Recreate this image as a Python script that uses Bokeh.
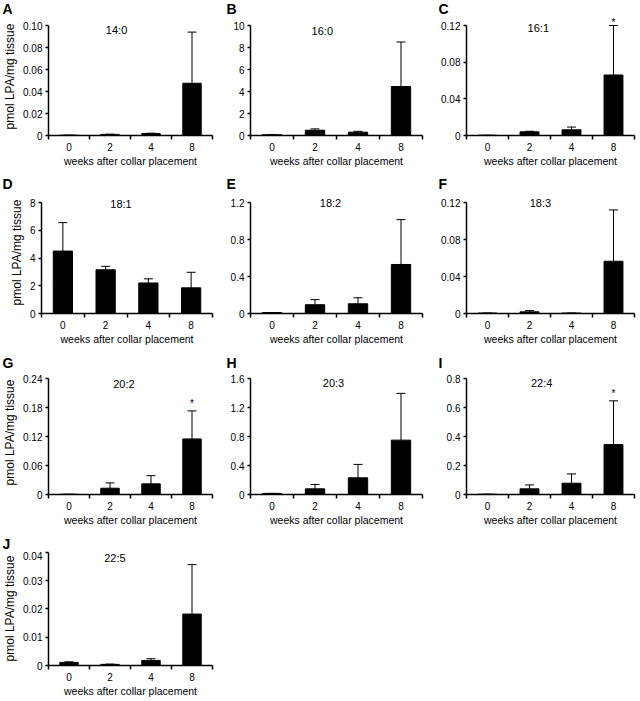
from bokeh.plotting import figure
from bokeh.models import FixedTicker, Label, Whisker, TeeHead, ColumnDataSource, Range1d
from bokeh.layouts import column, row
from bokeh.embed import file_html
from bokeh.resources import INLINE
from bokeh.core.properties import value

weeks = ["0", "2", "4", "8"]

# LPA species means and SD (pmol LPA / mg tissue)
lpa_14_0_mean = [0.0003, 0.0010, 0.0018, 0.0475]
lpa_14_0_err = [0.0, 0.0002, 0.0003, 0.0465]
lpa_16_0_mean = [0.07, 0.48, 0.30, 4.45]
lpa_16_0_err = [0.02, 0.12, 0.08, 4.05]
lpa_16_1_mean = [0.0003, 0.0040, 0.0062, 0.0660]
lpa_16_1_err = [0.0, 0.0006, 0.0030, 0.0540]
lpa_18_1_mean = [4.50, 3.15, 2.20, 1.85]
lpa_18_1_err = [2.05, 0.25, 0.30, 1.12]
lpa_18_2_mean = [0.010, 0.095, 0.105, 0.530]
lpa_18_2_err = [0.0, 0.055, 0.065, 0.485]
lpa_18_3_mean = [0.0005, 0.0018, 0.0005, 0.0565]
lpa_18_3_err = [0.0, 0.0014, 0.0, 0.0555]
lpa_20_2_mean = [0.0005, 0.013, 0.022, 0.115]
lpa_20_2_err = [0.0, 0.011, 0.017, 0.058]
lpa_20_3_mean = [0.015, 0.078, 0.23, 0.75]
lpa_20_3_err = [0.0, 0.06, 0.185, 0.645]
lpa_22_4_mean = [0.002, 0.039, 0.078, 0.344]
lpa_22_4_err = [0.0, 0.027, 0.064, 0.302]
lpa_22_5_mean = [0.0011, 0.0004, 0.0018, 0.0182]
lpa_22_5_err = [0.0002, 0.0001, 0.0006, 0.0175]

yt_14_0 = ["0", "0.02", "0.04", "0.06", "0.08", "0.10"]
yt_16_0 = ["0", "2", "4", "6", "8", "10"]
yt_16_1 = ["0", "0.04", "0.08", "0.12"]
yt_18_1 = ["0", "2", "4", "6", "8"]
yt_18_2 = ["0", "0.4", "0.8", "1.2"]
yt_18_3 = ["0", "0.04", "0.08", "0.12"]
yt_20_2 = ["0", "0.06", "0.12", "0.18", "0.24"]
yt_20_3 = ["0", "0.4", "0.8", "1.2", "1.6"]
yt_22_4 = ["0", "0.2", "0.4", "0.6", "0.8"]
yt_22_5 = ["0", "0.01", "0.02", "0.03", "0.04"]

# significance flag per panel (index of starred bar or None)
star_16_1 = 3
star_20_2 = 3
star_22_4 = 3

panels = [
    ("A", "14:0", lpa_14_0_mean, lpa_14_0_err, yt_14_0, None),
    ("B", "16:0", lpa_16_0_mean, lpa_16_0_err, yt_16_0, None),
    ("C", "16:1", lpa_16_1_mean, lpa_16_1_err, yt_16_1, star_16_1),
    ("D", "18:1", lpa_18_1_mean, lpa_18_1_err, yt_18_1, None),
    ("E", "18:2", lpa_18_2_mean, lpa_18_2_err, yt_18_2, None),
    ("F", "18:3", lpa_18_3_mean, lpa_18_3_err, yt_18_3, None),
    ("G", "20:2", lpa_20_2_mean, lpa_20_2_err, yt_20_2, star_20_2),
    ("H", "20:3", lpa_20_3_mean, lpa_20_3_err, yt_20_3, None),
    ("I", "22:4", lpa_22_4_mean, lpa_22_4_err, yt_22_4, star_22_4),
    ("J", "22:5", lpa_22_5_mean, lpa_22_5_err, yt_22_5, None),
]

# ---- layout / style parameters (pixels) ----
TOTAL_W = 639
title_pos = [1.66, 1.67, 1.71, 1.86, 1.86, 1.76, 1.84, 1.93, 1.79, 1.62]
title_dy = [-4, -5, -2, -1, 0, 0, -5, -4, -4, -6]
star_dy = [0, 0, 3, 0, 0, 0, 7, 0, 7, 0]
col_w = [218, 217, 204]
col_bl = [41, 32, 31]
col_br = [6, 13, 5]
letter_x = [2, 226, 438]
STRIP_H = 17
STRIP_MID = [9, 8, 8, 8]           # letter centre above strip bottom
row_frame = [118, 122, 124, 118]   # frame height (frame starts at figure top)
row_pad = [8, 11, 8, 1]            # gap between frame top and top tick
row_bottom = [39, 40, 40, 30]

FONT = "Liberation Sans"


def make_strip(r, letters):
    s = figure(width=TOTAL_W, height=STRIP_H, x_range=Range1d(0, TOTAL_W),
               y_range=Range1d(0, STRIP_H),
               output_backend="svg", toolbar_location=None, title=None,
               x_axis_location=None, y_axis_location=None, min_border=0)
    s.outline_line_color = None
    s.grid.visible = False
    s.text(x=[letter_x[k] for k in range(len(letters))], y=[STRIP_MID[r]] * len(letters),
           text=letters, text_font=value(FONT), text_font_size="14px",
           text_font_style="bold", text_color="black",
           text_align="left", text_baseline="middle")
    return s


def make_panel(i, letter, name, means, errs, ylabels, star):
    c = i % 3
    r = i // 3
    yticks = [float(s) for s in ylabels]
    ytop = yticks[-1]
    fh = row_frame[r]
    yend = ytop * fh / (fh - row_pad[r])
    xs = [k + 0.5 for k in range(len(weeks))]
    p = figure(width=col_w[c], height=fh + row_bottom[r],
               x_range=Range1d(0, len(weeks)), y_range=Range1d(0, yend),
               output_backend="svg", toolbar_location=None, title=None,
               min_border_left=col_bl[c], min_border_right=col_br[c],
               min_border_top=0, min_border_bottom=row_bottom[r])
    p.outline_line_color = None
    p.grid.visible = False
    p.background_fill_color = "white"
    p.border_fill_color = "white"

    upper = [m + e for m, e in zip(means, errs)]
    src = ColumnDataSource(dict(x=xs, mean=means, upper=upper))
    p.vbar(x="x", top="mean", bottom=0, width=0.45, source=src,
           fill_color="black", line_color="black", line_width=1)
    p.add_layout(Whisker(source=src, base="x", upper="upper", lower="mean",
                         dimension="height", line_color="black", line_width=1,
                         upper_head=TeeHead(size=9, line_color="black", line_width=1),
                         lower_head=None))

    # x axis: ticks between categories, labels at centres
    xa = p.xaxis[0]
    xa.ticker = FixedTicker(ticks=xs, minor_ticks=list(range(len(weeks) + 1)))
    xa.major_label_overrides = {x: w for x, w in zip(xs, weeks)}
    xa.major_tick_line_color = None
    xa.major_tick_out = 3
    xa.major_tick_in = 0
    xa.minor_tick_out = 4
    xa.minor_tick_in = 0
    xa.minor_tick_line_width = 1.5
    xa.minor_tick_line_color = "black"
    xa.axis_line_width = 1.5
    xa.axis_line_color = "black"
    xa.major_label_standoff = 3
    xa.major_label_text_font = FONT
    xa.major_label_text_font_size = "10px"
    xa.major_label_text_color = "black"
    xa.axis_label = "weeks after collar placement"
    xa.axis_label_text_font = FONT
    xa.axis_label_text_font_size = "10.5px"
    xa.axis_label_text_font_style = "normal"
    xa.axis_label_text_color = "black"
    xa.axis_label_standoff = 1

    ya = p.yaxis[0]
    ya.bounds = (0, ytop)
    ya.ticker = FixedTicker(ticks=yticks, minor_ticks=[])
    ya.major_label_overrides = {t: s for t, s in zip(yticks, ylabels)}
    ya.major_tick_out = 3
    ya.major_tick_in = 0
    ya.major_tick_line_width = 1.5
    ya.major_tick_line_color = "black"
    ya.minor_tick_line_color = None
    ya.axis_line_width = 1.5
    ya.axis_line_color = "black"
    ya.major_label_standoff = 3
    ya.major_label_text_font = FONT
    ya.major_label_text_font_size = "10px"
    ya.major_label_text_color = "black"
    if c == 0:
        ya.axis_label = "pmol LPA/mg tissue"
        ya.axis_label_text_font = FONT
        ya.axis_label_text_font_size = "12px"
        ya.axis_label_text_font_style = "normal"
        ya.axis_label_text_color = "black"
        ya.axis_label_standoff = 3

    # species label inside the plot
    p.add_layout(Label(x=title_pos[i], y=ytop, text=name, text_font=FONT,
                       text_font_size="11px", text_color="black",
                       text_align="center", text_baseline="middle", y_offset=title_dy[i]))

    if star is not None:
        p.add_layout(Label(x=xs[star], y=upper[star], text="*", text_font=FONT,
                           text_font_size="10px", text_color="black",
                           text_align="center", text_baseline="middle",
                           y_offset=star_dy[i]))
    return p


figs = [make_panel(i, *pn) for i, pn in enumerate(panels)]
letters = [pn[0] for pn in panels]
layout = column(make_strip(0, letters[0:3]), row(figs[0], figs[1], figs[2]),
                make_strip(1, letters[3:6]), row(figs[3], figs[4], figs[5]),
                make_strip(2, letters[6:9]), row(figs[6], figs[7], figs[8]),
                make_strip(3, letters[9:10]), row(figs[9]))

open("out.html", "w").write(file_html(layout, INLINE))
